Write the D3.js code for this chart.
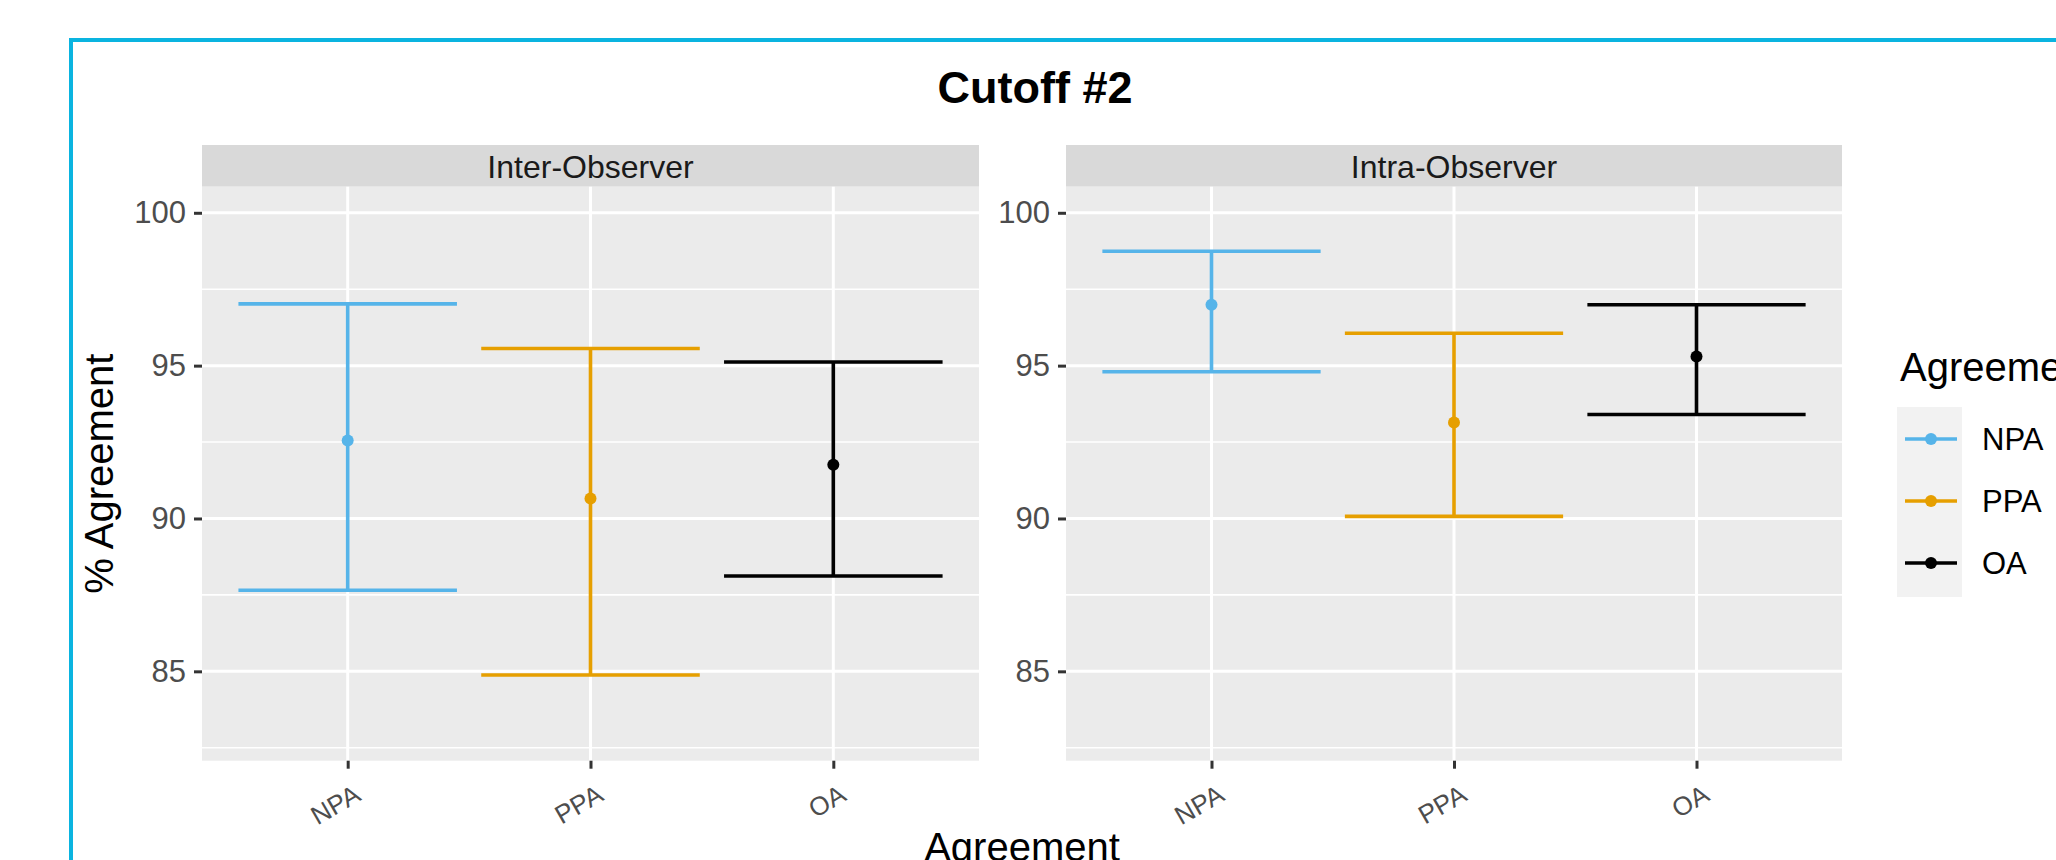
<!DOCTYPE html>
<html>
<head>
<meta charset="utf-8">
<script src="https://cdn.jsdelivr.net/npm/d3@7"></script>
<style>
  html, body { margin: 0; padding: 0; background: #fff; }
  svg text { font-family: "Liberation Sans", Arial, sans-serif; }
</style>
</head>
<body>
<div id="chart"></div>
<script>
// data
const categories = ["NPA", "PPA", "OA"];
const panelNames = ["Inter-Observer", "Intra-Observer"];
const interEst  = [92.55, 90.65, 91.76];
const interLow  = [87.65, 84.88, 88.12];
const interHigh = [97.02, 95.56, 95.12];
const intraEst  = [96.99, 93.14, 95.30];
const intraLow  = [94.80, 90.07, 93.40];
const intraHigh = [98.74, 96.06, 96.99];
const yTicks = [85, 90, 95, 100];
const yMinor = [82.5, 87.5, 92.5, 97.5];
const colors = ["#56B4E9", "#E69F00", "#000000"];

const W = 2056, H = 860;
const svg = d3.select("#chart").append("svg").attr("width", W).attr("height", H);

// page frame
svg.append("rect").attr("x", 71).attr("y", 40).attr("width", 3000).attr("height", 3000)
  .attr("fill", "none").attr("stroke", "#0ab4e0").attr("stroke-width", 4);

svg.append("text").attr("x", 1035).attr("y", 103).attr("text-anchor", "middle")
  .style("font-size", "45px").style("font-weight", "bold").attr("fill", "#000").text("Cutoff #2");

const stripTop = 145, panelTop = 186.7, panelBottom = 760.7;
const panelX = [[202, 979], [1066, 1842]];

// limits 82.93..100 with ggplot's 5% expansion
const lim = [82.93, 100];
const pad = (lim[1] - lim[0]) * 0.05;
const y = d3.scaleLinear().domain([lim[0] - pad, lim[1] + pad]).range([panelBottom, panelTop]);

const panelData = [
  categories.map((c, i) => ({ cat: c, est: interEst[i], lo: interLow[i], hi: interHigh[i], col: colors[i] })),
  categories.map((c, i) => ({ cat: c, est: intraEst[i], lo: intraLow[i], hi: intraHigh[i], col: colors[i] }))
];

const lw = 3.6;

panelNames.forEach((name, p) => {
  const [x0, x1] = panelX[p];
  const x = d3.scalePoint().domain(categories).range([x0, x1]).padding(0.6);
  const halfCap = x.step() * 0.45;
  const g = svg.append("g");

  g.append("rect").attr("x", x0).attr("y", stripTop).attr("width", x1 - x0).attr("height", panelTop - stripTop)
    .attr("fill", "#d9d9d9");
  g.append("text").attr("x", (x0 + x1) / 2).attr("y", 178).attr("text-anchor", "middle")
    .style("font-size", "32px").attr("fill", "#1a1a1a").text(name);

  g.append("rect").attr("x", x0).attr("y", panelTop).attr("width", x1 - x0).attr("height", panelBottom - panelTop)
    .attr("fill", "#ebebeb");

  g.selectAll(".minor").data(yMinor).join("line")
    .attr("x1", x0).attr("x2", x1).attr("y1", d => y(d)).attr("y2", d => y(d))
    .attr("stroke", "#fff").attr("stroke-width", 1.6);
  g.selectAll(".major").data(yTicks).join("line")
    .attr("x1", x0).attr("x2", x1).attr("y1", d => y(d)).attr("y2", d => y(d))
    .attr("stroke", "#fff").attr("stroke-width", 3);
  g.selectAll(".vgrid").data(categories).join("line")
    .attr("x1", d => x(d)).attr("x2", d => x(d)).attr("y1", panelTop).attr("y2", panelBottom)
    .attr("stroke", "#fff").attr("stroke-width", 3);

  // y axis
  const ya = g.append("g").attr("transform", `translate(${x0},0)`)
    .call(d3.axisLeft(y).tickValues(yTicks).tickSize(8).tickPadding(8));
  ya.select(".domain").remove();
  ya.selectAll(".tick line").attr("stroke", "#333").attr("stroke-width", 3);
  ya.selectAll(".tick text").attr("fill", "#4d4d4d").style("font-size", "31px")
    .style("font-family", "'Liberation Sans', Arial, sans-serif");

  // x axis
  const xa = g.append("g").attr("transform", `translate(0,${panelBottom})`)
    .call(d3.axisBottom(x).tickSize(8).tickPadding(0));
  xa.select(".domain").remove();
  xa.selectAll(".tick line").attr("stroke", "#333").attr("stroke-width", 3);
  xa.selectAll(".tick text").attr("fill", "#4d4d4d").style("font-size", "26px")
    .style("font-family", "'Liberation Sans', Arial, sans-serif")
    .attr("text-anchor", "end").attr("dy", null)
    .attr("transform", "translate(10,32) rotate(-30)");

  // error bars
  const eb = g.selectAll(".eb").data(panelData[p]).join("g");
  eb.append("line").attr("x1", d => x(d.cat)).attr("x2", d => x(d.cat))
    .attr("y1", d => y(d.lo)).attr("y2", d => y(d.hi)).attr("stroke", d => d.col).attr("stroke-width", lw);
  eb.append("line").attr("x1", d => x(d.cat) - halfCap).attr("x2", d => x(d.cat) + halfCap)
    .attr("y1", d => y(d.lo)).attr("y2", d => y(d.lo)).attr("stroke", d => d.col).attr("stroke-width", lw);
  eb.append("line").attr("x1", d => x(d.cat) - halfCap).attr("x2", d => x(d.cat) + halfCap)
    .attr("y1", d => y(d.hi)).attr("y2", d => y(d.hi)).attr("stroke", d => d.col).attr("stroke-width", lw);
  eb.append("circle").attr("cx", d => x(d.cat)).attr("cy", d => y(d.est)).attr("r", 6).attr("fill", d => d.col);
});

// axis titles
svg.append("text").attr("transform", `translate(113,${(panelTop + panelBottom) / 2}) rotate(-90)`)
  .attr("text-anchor", "middle").style("font-size", "40px").attr("fill", "#000").text("% Agreement");
svg.append("text").attr("x", (panelX[0][0] + panelX[1][1]) / 2).attr("y", 861).attr("text-anchor", "middle")
  .style("font-size", "40px").attr("fill", "#000").text("Agreement");

// legend
const lg = svg.append("g").attr("transform", "translate(1897,0)");
lg.append("text").attr("x", 3).attr("y", 381).style("font-size", "40px").attr("fill", "#000").text("Agreement");
const keyY = d3.scalePoint().domain(categories).range([439, 563]);
lg.append("rect").attr("x", 0).attr("y", 407).attr("width", 65).attr("height", 190).attr("fill", "#f2f2f2");
const items = lg.selectAll(".item").data(categories).join("g")
  .attr("transform", d => `translate(0,${keyY(d)})`);
items.append("line").attr("x1", 8).attr("x2", 60).attr("stroke", (d, i) => colors[i]).attr("stroke-width", lw);
items.append("circle").attr("cx", 34).attr("r", 6).attr("fill", (d, i) => colors[i]);
items.append("text").attr("x", 85).attr("y", 11).style("font-size", "31px").attr("fill", "#000").text(d => d);
</script>
</body>
</html>
